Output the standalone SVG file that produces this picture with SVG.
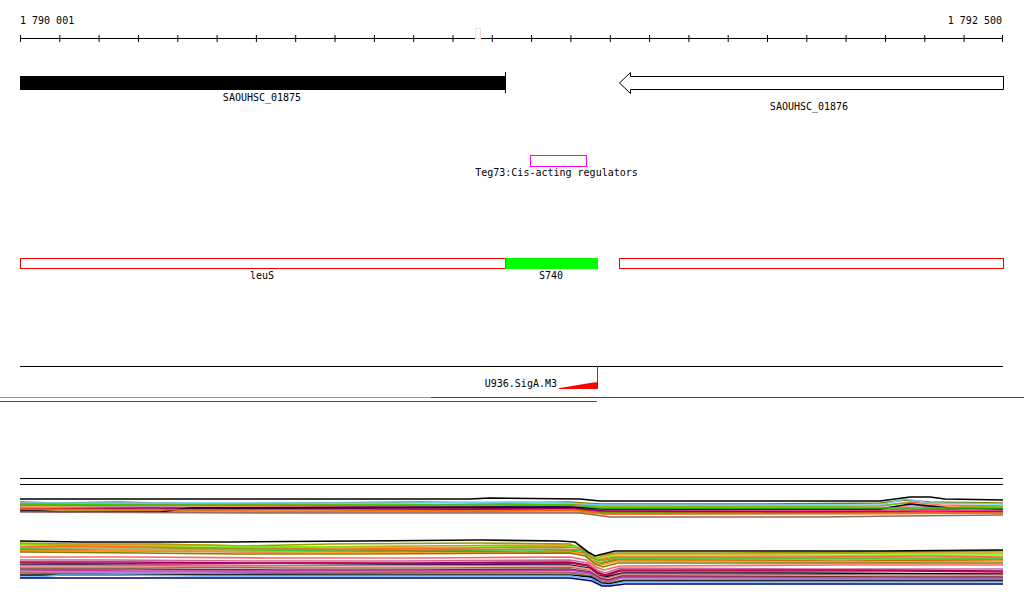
<svg xmlns="http://www.w3.org/2000/svg" width="1024" height="611" viewBox="0 0 1024 611">
<style>
text{font-family:"DejaVu Sans Mono","Liberation Mono",monospace;font-size:10px;fill:#000}
.tk{stroke:#000;stroke-width:1}
.b1 polyline,.b2 polyline{fill:none;stroke-width:1.6;stroke-linejoin:miter}
</style>
<rect width="1024" height="611" fill="#fff"/>
<g id="ruler">
<line x1="20" y1="38.5" x2="1003" y2="38.5" stroke="#000" stroke-width="1.2"/>
<path class="tk" d="M20.5 35v7M59.8 35v7M99.1 35v7M138.5 35v7M177.8 35v7M217.1 35v7M256.4 35v7M295.7 35v7M335 35v7M374.4 35v7M413.7 35v7M453 35v7M492.3 35v7M531.6 35v7M570.9 35v7M610.3 35v7M649.6 35v7M688.9 35v7M728.2 35v7M767.5 35v7M806.8 35v7M846.1 35v7M885.5 35v7M924.8 35v7M964.1 35v7M1002.5 35v7"/>
<text x="20" y="24">1 790 001</text>
<text x="1002" y="24" text-anchor="end">1 792 500</text>
<rect x="475.5" y="28.5" width="5" height="10" fill="none" stroke="#ffdcc8" stroke-width="1"/>
</g>
<g id="gene_01875">
<rect x="20" y="76" width="485" height="14" fill="#000"/>
<line x1="505.5" y1="72" x2="505.5" y2="93" stroke="#000"/>
<text x="262" y="101" text-anchor="middle">SAOUHSC_01875</text>
</g>
<g id="gene_01876">
<path d="M1003.5 76.5H630.5V72.5L619.5 83L630.5 93.5V89.5H1003.5Z" fill="#fff" stroke="#000" stroke-width="1"/>
<text x="809" y="110" text-anchor="middle">SAOUHSC_01876</text>
</g>
<g id="teg73">
<rect x="530.5" y="155.5" width="56" height="11" fill="none" stroke="#ff00ff" stroke-width="1"/>
<text x="556.5" y="176" text-anchor="middle">Teg73:Cis-acting regulators</text>
</g>
<g id="leuS">
<rect x="20.5" y="258.5" width="485" height="10" fill="none" stroke="#ff0000" stroke-width="1"/>
<text x="262" y="279" text-anchor="middle">leuS</text>
</g>
<g id="S740">
<rect x="505.5" y="258" width="92.5" height="11" fill="#00ff00"/>
<text x="551" y="279" text-anchor="middle">S740</text>
</g>
<g id="gene_right">
<rect x="619.5" y="258.5" width="384" height="10" fill="none" stroke="#ff0000" stroke-width="1"/>
</g>
<g id="U936">
<line x1="20" y1="366.5" x2="1003" y2="366.5" stroke="#000" stroke-width="1"/>
<line x1="597.5" y1="366" x2="597.5" y2="389" stroke="#ff0000" stroke-width="1"/>
<path d="M558 389H598V382L590 383L584 384L578 385L572 386L566 387L560 388Z" fill="#ff0000"/>
<text x="557" y="387" text-anchor="end">U936.SigA.M3</text>
</g>
<g id="tracks">
<line x1="0" y1="397.5" x2="431" y2="397.5" stroke="#00ff00" stroke-width="1"/>
<line x1="431" y1="397.5" x2="1024" y2="397.5" stroke="#ff0000" stroke-width="1"/>
<line x1="0" y1="401.5" x2="597" y2="401.5" stroke="#ff0000" stroke-width="1"/>
<line x1="20" y1="478.5" x2="1003" y2="478.5" stroke="#000" stroke-width="1"/>
<line x1="20" y1="484.5" x2="1003" y2="484.5" stroke="#000" stroke-width="1"/>
</g>
<g id="connectors"></g>
<g id="band1" class="b1">
<polyline stroke="#808000" points="20,502 55,503 120,502 200,504 300,503 420,502 500,503 570,502 600,504 760,504 880,503 905,500 930,502 1003,503"/>
<polyline stroke="#ff6633" points="20,503 80,504 160,503 260,505 380,504 480,505 570,504 600,506 700,506 880,506 910,502 940,505 1003,506"/>
<polyline stroke="#66cc00" points="20,504 60,505 150,504 250,506 400,505 500,504 570,505 600,507 800,507 880,506 905,503 935,506 1003,507"/>
<polyline stroke="#cc6699" points="20,505 120,506 240,507 360,506 460,505 570,506 605,509 760,509 890,508 915,505 945,508 1003,509"/>
<polyline stroke="#996633" points="20,507 90,506 180,508 320,508 440,507 570,507 605,510 820,510 900,509 925,507 960,510 1003,511"/>
<polyline stroke="#ff9966" points="20,506 100,507 230,506 330,507 470,506 570,506 600,508 780,508 900,507 920,504 960,507 1003,508"/>
<polyline stroke="#9999cc" points="20,508 140,507 260,508 380,509 500,508 570,507 605,510 740,511 880,510 915,507 950,510 1003,511"/>
<polyline stroke="#cc3300" points="20,509 110,509 210,510 300,509 420,510 570,509 605,512 760,512 900,511 930,509 1003,512"/>
<polyline stroke="#669900" points="20,510 90,510 170,511 250,512 380,511 490,511 570,510 605,513 800,513 890,512 930,510 1003,513"/>
<polyline stroke="#ff3399" points="20,505 180,505 330,506 460,507 570,506 605,511 780,511 900,510 1003,511"/>
<polyline stroke="#66ccff" points="20,503 220,503 400,503 520,502 570,503 600,505 880,505 905,499 930,503 1003,504"/>
<polyline stroke="#990066" points="20,509 150,508 310,509 460,509 570,508 605,511 800,512 1003,512"/>
<polyline stroke="#cc9933" points="20,511 160,511 260,512 380,512 540,512 575,512 605,514 860,514 1003,513"/>
<polyline stroke="#000033" points="20,511 40,511 60,512 160,512 190,508 570,507 605,509 880,509 910,504 950,508 1003,509"/>
<polyline stroke="#996666" points="20,512 260,513 450,513 580,513 610,517 820,517 900,516 1003,515"/>
<polyline stroke="#33cc00" points="20,504 130,505 290,505 420,505 570,505 600,508 860,508 1003,508"/>
<polyline stroke="#ff6600" points="20,509 200,510 350,510 480,511 575,510 605,514 880,513 1003,513"/>
<polyline stroke="#000000" points="20,499 200,499 470,499 490,498 580,499 600,501 880,501 910,497 930,497 945,499 1003,500"/>
</g>
<g id="band2" class="b2">
<polyline stroke="#999900" points="20,543 70,544 160,544 240,546 330,544 480,543 570,544 585,551 595,556 615,553 720,553 880,552 1003,551"/>
<polyline stroke="#cc9900" points="20,544 90,545 200,545 300,547 420,546 560,545 576,546 588,555 596,558 615,554 760,554 900,553 1003,553"/>
<polyline stroke="#66ff00" points="20,545 110,546 190,547 320,547 440,548 560,546 578,547 590,556 598,559 615,556 740,556 880,555 1003,555"/>
<polyline stroke="#ff6633" points="20,547 70,546 220,548 340,549 470,548 560,547 580,548 591,557 598,560 615,557 800,557 930,556 1003,557"/>
<polyline stroke="#999933" points="20,548 150,548 260,549 420,550 560,549 581,550 592,558 600,561 616,558 860,558 1003,558"/>
<polyline stroke="#33cc33" points="20,549 100,550 230,550 350,551 500,550 570,550 582,551 592,560 600,563 616,559 800,559 1003,559"/>
<polyline stroke="#cc6600" points="20,550 120,551 280,552 400,551 520,552 570,551 583,553 593,562 600,564 616,560 840,561 1003,560"/>
<polyline stroke="#ff9933" points="20,551 200,551 310,552 450,553 570,552 584,554 594,562 602,565 618,561 900,562 1003,561"/>
<polyline stroke="#808000" points="20,552 140,553 240,554 360,554 570,553 585,556 595,564 603,567 618,563 860,563 1003,563"/>
<polyline stroke="#ff6666" points="20,557 130,557 270,558 420,558 570,557 586,560 596,567 604,570 620,566 840,565 1003,565"/>
<polyline stroke="#cc6699" points="20,560 110,560 250,561 400,561 570,560 587,563 597,570 605,573 620,568 820,569 1003,569"/>
<polyline stroke="#990066" points="20,562 120,562 260,563 410,563 570,562 587,565 597,572 605,575 620,570 860,570 1003,571"/>
<polyline stroke="#cc0033" points="20,563 170,564 320,563 480,564 570,563 588,566 598,573 606,576 620,571 900,571 1003,572"/>
<polyline stroke="#000033" points="20,565 80,565 200,566 380,565 570,565 588,568 598,575 606,577 622,573 800,573 1003,574"/>
<polyline stroke="#996666" points="20,567 150,567 290,568 440,568 570,567 589,570 599,576 607,578 622,574 880,575 1003,575"/>
<polyline stroke="#ff9999" points="20,566 160,566 300,566 460,566 570,566 589,569 599,577 607,579 622,575 860,576 1003,576"/>
<polyline stroke="#663333" points="20,569 140,569 280,570 420,570 570,569 590,572 600,578 608,580 622,576 900,577 1003,577"/>
<polyline stroke="#cc3399" points="20,570 130,571 260,571 430,571 570,570 590,573 600,579 608,581 622,577 840,578 1003,578"/>
<polyline stroke="#9966cc" points="20,572 200,572 340,573 500,572 570,572 590,574 600,580 608,582 622,578 880,578 1003,579"/>
<polyline stroke="#996633" points="20,573 120,574 240,574 400,573 570,573 591,576 601,582 609,583 623,580 860,580 1003,580"/>
<polyline stroke="#000000" points="20,575 180,575 330,575 480,575 570,575 591,577 601,583 609,584 623,581 900,581 1003,581"/>
<polyline stroke="#66b3ff" points="20,577 40,577 60,575 120,575 200,576 400,576 570,576 592,579 601,584 609,585 624,582 900,582 1003,582"/>
<polyline stroke="#000066" points="20,578 200,578 420,578 570,578 592,581 602,586 610,586 625,584 1003,584"/>
<polyline stroke="#000000" points="20,541 80,542 230,542 360,541 480,540 560,541 575,542 588,552 595,556 615,551 880,551 1003,550"/>
</g>
</svg>
